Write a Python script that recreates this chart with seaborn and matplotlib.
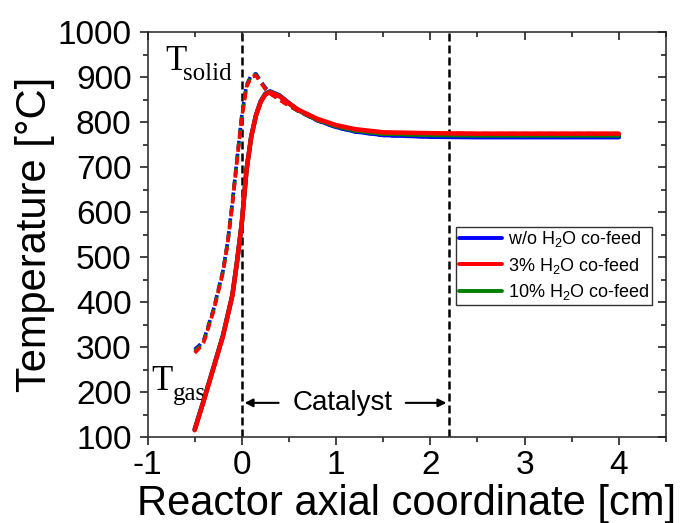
import numpy as np
import pandas as pd
import matplotlib
matplotlib.use('Agg')
import matplotlib.pyplot as plt
import seaborn as sns
from matplotlib.ticker import MultipleLocator

# gas temperature (solid lines)
x_gas = [-0.5, -0.4, -0.3, -0.2, -0.1, -0.05, 0.0, 0.05, 0.1, 0.15, 0.2, 0.25, 0.3,
         0.4, 0.5, 0.6, 0.8, 1.0, 1.2, 1.5, 2.0, 2.5, 3.0, 3.5, 4.0]
gas_wo = [117, 185, 255, 326, 416, 492, 577, 695, 769, 816, 847, 864, 869,
          860, 843, 827, 805, 790, 780, 772, 768, 767, 767, 767, 767]
gas_3 = [115, 183, 254, 324, 415, 490, 576, 694, 768, 815, 845, 862, 867,
         858, 842, 828, 808, 794, 785, 778, 776, 775, 775, 775, 775]
gas_10 = [116, 184, 254, 325, 415, 491, 576, 694, 768, 815, 846, 863, 868,
          859, 842, 827, 806, 792, 782, 775, 772, 771, 771, 771, 771]

# solid temperature (dashed lines)
x_sol = [-0.5, -0.45, -0.4, -0.3, -0.2, -0.15, -0.1, -0.05, 0.0, 0.05, 0.1, 0.15,
         0.2, 0.25, 0.3, 0.4, 0.5, 0.6, 0.8, 1.0, 1.2, 1.5, 2.0, 2.5, 3.0, 3.5, 4.0]
sol_wo = [295, 304, 318, 384, 470, 534, 622, 720, 815, 883, 905, 908,
          892, 877, 866, 852, 838, 825, 804, 789, 779, 771, 768, 767, 767, 767, 767]
sol_3 = [287, 298, 313, 380, 466, 530, 618, 717, 811, 879, 901, 904,
         889, 874, 864, 850, 837, 826, 806, 793, 784, 777, 776, 775, 775, 775, 775]
sol_10 = [291, 301, 315, 382, 468, 532, 620, 718, 813, 881, 903, 906,
          890, 875, 865, 851, 837, 825, 805, 791, 781, 774, 772, 771, 771, 771, 771]

labels = ['w/o H$_2$O co-feed', '3% H$_2$O co-feed', '10% H$_2$O co-feed']
colors = ['#0000ff', '#ff0000', '#008000']
catalyst_start, catalyst_end = 0.0, 2.2

sns.set_style('ticks')
plt.rcParams['font.family'] = ['Liberation Sans', 'DejaVu Sans']
plt.rcParams['mathtext.fontset'] = 'custom'
plt.rcParams['mathtext.rm'] = 'Liberation Sans'
plt.rcParams['mathtext.it'] = 'Liberation Sans:italic'
plt.rcParams['axes.unicode_minus'] = False
for key in ['text.color', 'axes.labelcolor', 'xtick.color', 'ytick.color']:
    plt.rcParams[key] = 'black'

fig = plt.figure(figsize=(6.84, 5.23), dpi=100)
rect = [0.2157, 0.1644, 0.7580, 0.7735]

ax = fig.add_axes(rect)

# inward ticks on top and right (Origin-style mirror ticks), overlaid on top
ax_t = fig.add_axes(rect, frame_on=False)
ax_t.set_zorder(10)
ax_t.patch.set_visible(False)
ax_t.set_xlim(-1, 4.5)
ax_t.set_ylim(100, 1000)
ax_t.xaxis.set_major_locator(MultipleLocator(1))
ax_t.xaxis.set_minor_locator(MultipleLocator(0.5))
ax_t.yaxis.set_major_locator(MultipleLocator(100))
ax_t.yaxis.set_minor_locator(MultipleLocator(50))
ax_t.tick_params(which='both', direction='in', top=True, right=True, bottom=False,
                 left=False, labelbottom=False, labelleft=False, color='#222222', width=1.2)
ax_t.tick_params(which='major', length=6)
ax_t.tick_params(which='minor', length=3.5)

gas = [gas_wo, gas_3, gas_10]
sol = [sol_wo, sol_3, sol_10]
zorders = [3, 5, 4]  # red on top, then green, blue at the bottom

for i in range(3):
    sns.lineplot(x=x_gas, y=gas[i], color=colors[i], lw=3.2, ax=ax,
                 label=labels[i], zorder=zorders[i])
    sns.lineplot(x=x_sol, y=sol[i], color=colors[i], lw=2.6, ax=ax,
                 zorder=zorders[i], legend=False)
    ax.lines[-1].set_dashes([2.2, 1.4])

for xv in [catalyst_start, catalyst_end]:
    ax.axvline(xv, color='black', lw=1.8, dashes=(3.2, 1.6), zorder=2)

ax.annotate('', xy=(catalyst_start, 176), xytext=(0.42, 176),
            arrowprops=dict(arrowstyle='-|>', color='black', lw=1.5, mutation_scale=12))
ax.annotate('', xy=(catalyst_end, 176), xytext=(1.71, 176),
            arrowprops=dict(arrowstyle='-|>', color='black', lw=1.5, mutation_scale=12))
ax.text(1.07, 176, 'Catalyst', fontsize=20, ha='center', va='center')

serif = ['Liberation Serif', 'DejaVu Serif']
ax.text(-0.81, 917, 'T', fontsize=25, family=serif, va='baseline')
ax.text(-0.62, 894, 'solid', fontsize=18, family=serif, va='baseline')
ax.text(-0.955, 204, 'T', fontsize=25, family=serif, va='baseline')
ax.text(-0.73, 182, 'gas', fontsize=18, family=serif, va='baseline')

ax.set_xlim(-1, 4.5)
ax.set_ylim(100, 1000)
ax.xaxis.set_major_locator(MultipleLocator(1))
ax.xaxis.set_minor_locator(MultipleLocator(0.5))
ax.yaxis.set_major_locator(MultipleLocator(100))
ax.yaxis.set_minor_locator(MultipleLocator(50))
ax.tick_params(which='both', direction='out', bottom=True, left=True,
               top=False, right=False, color='#222222', width=1.2)
ax.tick_params(which='major', length=5.5, labelsize=24, pad=4)
ax.tick_params(which='minor', length=3.5)
ax.tick_params(axis='y', which='major', pad=6)

for s in ax.spines.values():
    s.set_color('#333333')
    s.set_linewidth(1.2)

ax.set_xlabel('Reactor axial coordinate [cm]', fontsize=30, labelpad=2)
ax.set_ylabel('Temperature [°C]', fontsize=30, labelpad=2)

handles, labs = ax.get_legend_handles_labels()
leg = ax.legend(handles, labs, loc='upper right',
                bbox_to_anchor=(0.973, 0.52), borderaxespad=0, fontsize=13,
                fancybox=False, handlelength=2.4, handletextpad=0.3,
                borderpad=0.15, labelspacing=0.35)
leg.get_frame().set_edgecolor('#333333')
leg.get_frame().set_linewidth(1.0)
leg.get_frame().set_alpha(1)
for h in leg.get_lines():
    h.set_linewidth(2.8)

fig.savefig('out.png', dpi=100)
